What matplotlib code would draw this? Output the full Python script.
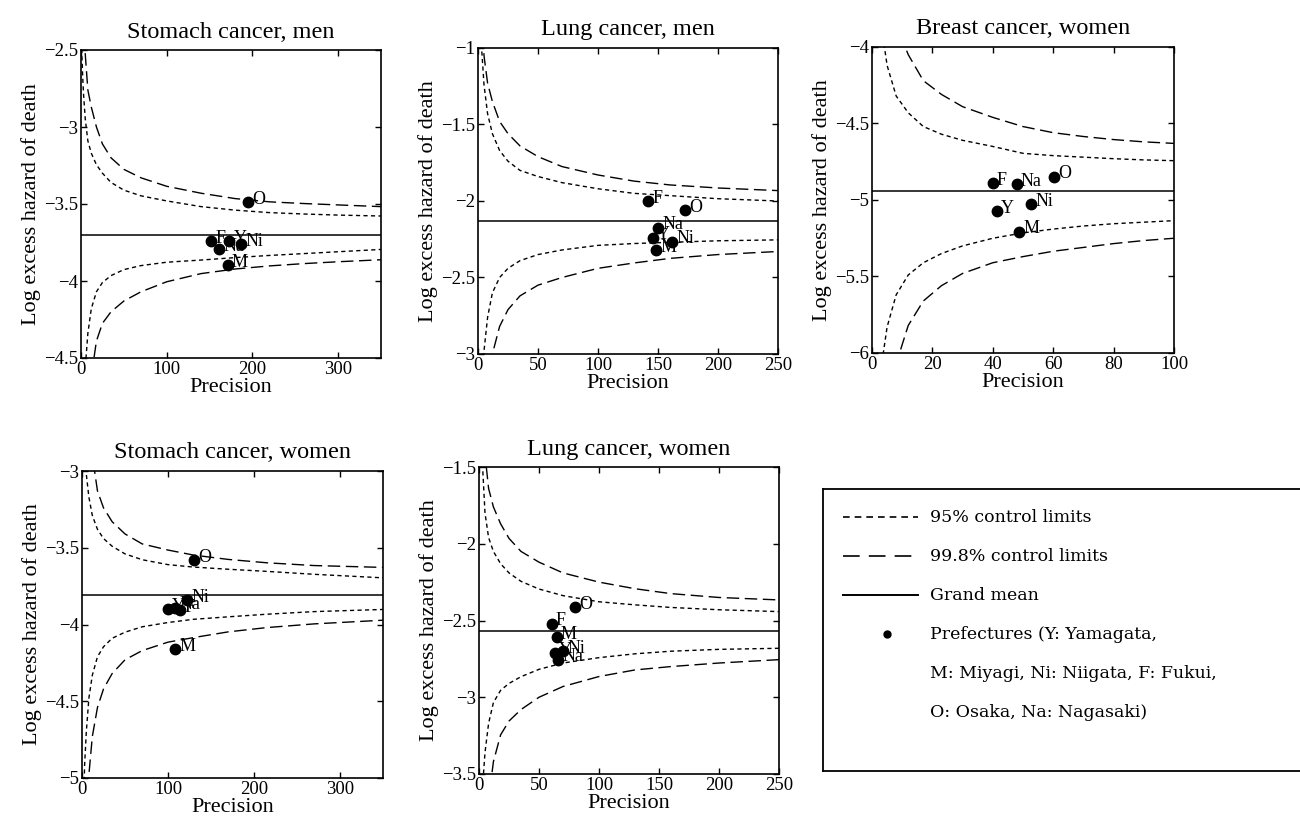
import matplotlib
matplotlib.use("Agg")
import matplotlib.pyplot as plt
from matplotlib.ticker import FuncFormatter, MultipleLocator

# prefecture order used for every panel
labels = ["Y", "M", "Ni", "F", "O", "Na"]

# --- Stomach cancer, men ---
sm_men_mean = -3.70
sm_men_x = [173, 171, 187, 152, 195, 161]
sm_men_y = [-3.74, -3.895, -3.76, -3.74, -3.49, -3.795]
sm_men_prec = [0.5, 1, 2, 3, 5, 8, 12, 18, 25, 35, 50, 70, 100, 140, 180, 220, 260, 300, 350]
sm_men_u99 = [-0.5, -0.8, -1.6, -2.05, -2.53, -2.76, -2.87, -3.00, -3.11, -3.20, -3.275, -3.33, -3.385, -3.43, -3.465, -3.486, -3.497, -3.506, -3.517]
sm_men_u95 = [-2.2, -2.52, -2.68, -2.79, -2.95, -3.09, -3.17, -3.245, -3.30, -3.36, -3.41, -3.447, -3.48, -3.517, -3.54, -3.556, -3.565, -3.572, -3.578]
sm_men_l95 = [-6.5, -5.6, -5.1, -4.83, -4.56, -4.34, -4.18, -4.07, -4.01, -3.965, -3.926, -3.90, -3.878, -3.864, -3.848, -3.834, -3.822, -3.81, -3.795]
sm_men_l99 = [-8.0, -7.0, -6.0, -5.5, -5.05, -4.78, -4.62, -4.39, -4.275, -4.20, -4.13, -4.07, -4.005, -3.952, -3.922, -3.902, -3.887, -3.875, -3.862]

# --- Lung cancer, men ---
lg_men_mean = -2.13
lg_men_x = [145.6, 148.6, 161.7, 141.7, 172.8, 150]
lg_men_y = [-2.24, -2.32, -2.265, -2.0, -2.06, -2.174]
lg_men_prec = [1, 2, 3, 5, 8, 12, 18, 25, 35, 50, 70, 100, 130, 160, 200, 250]
lg_men_u99 = [0.9, -0.3, -0.6, -1.05, -1.23, -1.35, -1.48, -1.56, -1.64, -1.71, -1.775, -1.83, -1.87, -1.895, -1.915, -1.932]
lg_men_u95 = [-0.2, -0.75, -1.0, -1.24, -1.43, -1.56, -1.67, -1.74, -1.80, -1.84, -1.88, -1.92, -1.95, -1.965, -1.985, -2.0]
lg_men_l95 = [-4.1, -3.5, -3.25, -2.98, -2.76, -2.60, -2.50, -2.44, -2.39, -2.35, -2.32, -2.29, -2.278, -2.27, -2.26, -2.254]
lg_men_l99 = [-5.2, -4.3, -3.9, -3.5, -3.2, -3.0, -2.82, -2.71, -2.62, -2.55, -2.50, -2.44, -2.405, -2.375, -2.35, -2.33]

# --- Breast cancer, women ---
br_wom_mean = -4.94
br_wom_x = [41.3, 48.8, 52.6, 40, 60.4, 47.9]
br_wom_y = [-5.072, -5.207, -5.026, -4.89, -4.848, -4.896]
br_wom_prec = [2, 3, 5, 8, 12, 17, 23, 30, 40, 50, 60, 70, 80, 90, 100]
br_wom_u99 = [-2.8, -3.2, -3.55, -3.85, -4.05, -4.22, -4.31, -4.39, -4.46, -4.52, -4.56, -4.585, -4.605, -4.62, -4.63]
br_wom_u95 = [-3.6, -3.85, -4.12, -4.32, -4.43, -4.52, -4.57, -4.61, -4.65, -4.695, -4.71, -4.72, -4.73, -4.738, -4.743]
br_wom_l95 = [-6.4, -6.1, -5.83, -5.62, -5.49, -5.41, -5.35, -5.30, -5.25, -5.215, -5.19, -5.17, -5.155, -5.145, -5.135]
br_wom_l99 = [-7.5, -7.0, -6.45, -6.07, -5.82, -5.66, -5.56, -5.48, -5.41, -5.37, -5.335, -5.31, -5.285, -5.265, -5.25]

# --- Stomach cancer, women ---
sm_wom_mean = -3.805
sm_wom_x = [100, 108.5, 122, 114, 129.8, 108]
sm_wom_y = [-3.90, -4.16, -3.84, -3.905, -3.58, -3.89]
sm_wom_prec = [1, 2, 3, 5, 8, 12, 18, 25, 35, 50, 70, 100, 130, 170, 215, 270, 350]
sm_wom_u99 = [0.0, -1.6, -2.0, -2.4, -2.7, -2.9, -3.13, -3.24, -3.33, -3.41, -3.475, -3.515, -3.548, -3.576, -3.598, -3.616, -3.628]
sm_wom_u95 = [-2.0, -2.5, -2.75, -3.02, -3.17, -3.29, -3.38, -3.44, -3.49, -3.54, -3.578, -3.61, -3.626, -3.64, -3.654, -3.673, -3.696]
sm_wom_l95 = [-5.8, -5.15, -4.92, -4.70, -4.48, -4.33, -4.21, -4.145, -4.09, -4.05, -4.015, -3.987, -3.966, -3.95, -3.933, -3.916, -3.902]
sm_wom_l99 = [-7.5, -6.3, -5.7, -5.3, -4.98, -4.73, -4.54, -4.42, -4.32, -4.23, -4.17, -4.115, -4.085, -4.048, -4.02, -3.996, -3.972]

# --- Lung cancer, women ---
lg_wom_mean = -2.57
lg_wom_x = [63.3, 64.7, 70.2, 60.5, 79.9, 66]
lg_wom_y = [-2.712, -2.607, -2.70, -2.521, -2.415, -2.755]
lg_wom_prec = [1, 2, 3, 5, 8, 12, 18, 25, 35, 50, 70, 100, 130, 160, 200, 250]
lg_wom_u99 = [0.5, -0.4, -0.9, -1.42, -1.64, -1.76, -1.87, -1.965, -2.05, -2.12, -2.19, -2.25, -2.293, -2.325, -2.35, -2.366]
lg_wom_u95 = [-0.6, -1.2, -1.5, -1.80, -1.96, -2.05, -2.13, -2.19, -2.245, -2.295, -2.338, -2.378, -2.398, -2.415, -2.43, -2.442]
lg_wom_l95 = [-4.5, -3.85, -3.58, -3.36, -3.17, -3.035, -2.955, -2.91, -2.866, -2.818, -2.777, -2.742, -2.717, -2.70, -2.688, -2.681]
lg_wom_l99 = [-6.0, -5.1, -4.6, -4.0, -3.67, -3.42, -3.245, -3.155, -3.08, -3.0, -2.93, -2.865, -2.822, -2.80, -2.777, -2.755]

SERIF = ["Liberation Serif", "DejaVu Serif"]
plt.rcParams["font.family"] = SERIF

short_dash = (0, (3.0, 2.4))
long_dash = (0, (9.0, 4.0))

fig = plt.figure(figsize=(13, 8.25), dpi=100)

def px_rect(left, top, right, bottom):
    return [left / 1300, 1 - bottom / 825, (right - left) / 1300, (bottom - top) / 825]

fmt = FuncFormatter(lambda v, p: ("%g" % round(v, 2)).replace("-", "\u2212"))

def panel(rect, title, prec, u99, u95, l95, l99, mean, px, py, xmax, xstep, ylo, yhi):
    ax = fig.add_axes(px_rect(*rect))
    ax.plot(prec, u95, color="black", lw=1.0, ls=short_dash)
    ax.plot(prec, l95, color="black", lw=1.0, ls=short_dash)
    ax.plot(prec, u99, color="black", lw=1.0, ls=long_dash)
    ax.plot(prec, l99, color="black", lw=1.0, ls=long_dash)
    ax.axhline(mean, color="black", lw=1.1)
    ax.plot(px, py, "o", color="black", ms=7.5)
    for lab, x, y in zip(labels, px, py):
        ax.annotate(lab, (x, y), xytext=(3, 2), textcoords="offset points",
                    ha="left", va="center", fontsize=13)
    ax.set_xlim(0, xmax)
    ax.set_ylim(ylo, yhi)
    ax.xaxis.set_major_locator(MultipleLocator(xstep))
    ax.yaxis.set_major_locator(MultipleLocator(0.5))
    ax.yaxis.set_major_formatter(fmt)
    ax.tick_params(direction="in", top=True, right=True, length=4, width=1,
                   labelsize=13.5, pad=2)
    for s in ax.spines.values():
        s.set_linewidth(1.2)
    ax.set_title(title, fontsize=17.5, pad=9)
    ax.set_xlabel("Precision", fontsize=16, labelpad=0)
    ax.set_ylabel("Log excess hazard of death", fontsize=16, labelpad=2)
    return ax

panel((81, 50, 381, 358), "Stomach cancer, men", sm_men_prec, sm_men_u99, sm_men_u95,
      sm_men_l95, sm_men_l99, sm_men_mean, sm_men_x, sm_men_y, 350, 100, -4.5, -2.5)
panel((478, 48, 778, 354), "Lung cancer, men", lg_men_prec, lg_men_u99, lg_men_u95,
      lg_men_l95, lg_men_l99, lg_men_mean, lg_men_x, lg_men_y, 250, 50, -3, -1)
panel((872, 47, 1174, 353), "Breast cancer, women", br_wom_prec, br_wom_u99, br_wom_u95,
      br_wom_l95, br_wom_l99, br_wom_mean, br_wom_x, br_wom_y, 100, 20, -6, -4)
panel((82, 471, 383, 778), "Stomach cancer, women", sm_wom_prec, sm_wom_u99, sm_wom_u95,
      sm_wom_l95, sm_wom_l99, sm_wom_mean, sm_wom_x, sm_wom_y, 350, 100, -5, -3)
panel((479, 467, 779, 774), "Lung cancer, women", lg_wom_prec, lg_wom_u99, lg_wom_u95,
      lg_wom_l95, lg_wom_l99, lg_wom_mean, lg_wom_x, lg_wom_y, 250, 50, -3.5, -1.5)

# legend box, drawn in its own axes measured in pixels
lg = fig.add_axes(px_rect(823, 489, 1303, 771))
lg.set_xlim(823, 1303)
lg.set_ylim(771, 489)
lg.set_xticks([])
lg.set_yticks([])
for s in lg.spines.values():
    s.set_linewidth(1.3)
LFONT = ["DejaVu Serif"]
lg.plot([843, 918], [517, 517], color="black", lw=1.2, ls=(0, (4.0, 3.0)))
lg.plot([843, 918], [556, 556], color="black", lw=1.2, ls=(0, (10.0, 5.5)))
lg.plot([843, 918], [595, 595], color="black", lw=1.4)
lg.plot([887], [634], "o", color="black", ms=5)
legend_rows = ["95% control limits", "99.8% control limits", "Grand mean",
               "Prefectures (Y: Yamagata,", "M: Miyagi, Ni: Niigata, F: Fukui,",
               "O: Osaka, Na: Nagasaki)"]
for i, row in enumerate(legend_rows):
    lg.text(930, 517 + 39 * i, row, ha="left", va="center", fontsize=12.5, family=LFONT)

fig.savefig("out.png", dpi=100)
